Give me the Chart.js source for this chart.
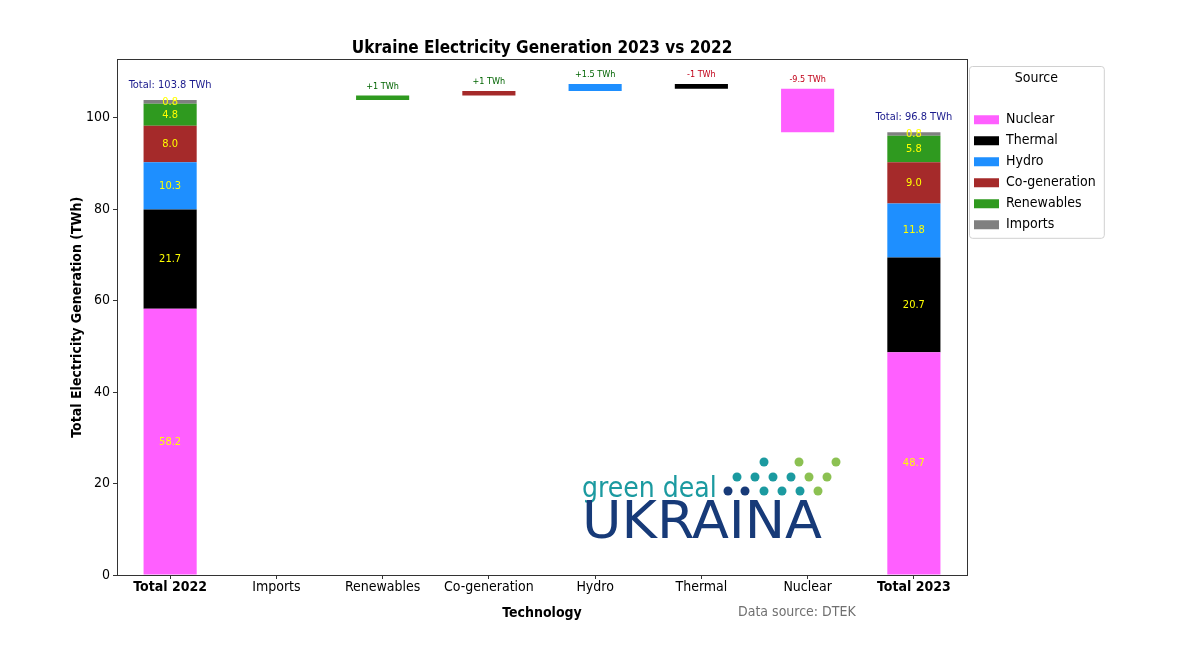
<!DOCTYPE html>
<html>
<head>
<meta charset="utf-8">
<script src="https://cdn.jsdelivr.net/npm/chart.js@4/dist/chart.umd.min.js"></script>
<style>
  html, body { margin: 0; padding: 0; background: #fff; }
  #wrap { width: 1180px; height: 664px; position: relative; }
</style>
</head>
<body>
<div id="wrap"><canvas id="genChart"></canvas></div>
<script>
// categories on the x axis
const categories = ['Total 2022', 'Imports', 'Renewables', 'Co-generation', 'Hydro', 'Thermal', 'Nuclear', 'Total 2023'];

// sources, bottom to top in the stacks
const sources = ['Nuclear', 'Thermal', 'Hydro', 'Co-generation', 'Renewables', 'Imports'];
const sourceColors = ['#ff5fff', '#000000', '#1e8fff', '#a52a2a', '#2f9a1f', '#808080'];
const gen2022 = [58.2, 21.7, 10.3, 8.0, 4.8, 0.8];
const gen2023 = [48.7, 20.7, 11.8, 9.0, 5.8, 0.8];

// year-on-year change, in the order of the middle categories
const changeSources = ['Imports', 'Renewables', 'Co-generation', 'Hydro', 'Thermal', 'Nuclear'];
const changes = [0, 1, 1, 1.5, -1, -9.5];

const yTicks = [0, 20, 40, 60, 80, 100];

const FONT = '"DejaVu Sans Condensed", "DejaVu Sans", sans-serif';
Chart.defaults.font.family = FONT;
Chart.defaults.color = '#000';

const total2022 = gen2022.reduce((a, b) => a + b, 0);
const total2023 = gen2023.reduce((a, b) => a + b, 0);

// stacked totals as floating bars
const stackDatasets = sources.map((name, i) => {
    const base22 = gen2022.slice(0, i).reduce((a, b) => a + b, 0);
    const base23 = gen2023.slice(0, i).reduce((a, b) => a + b, 0);
    const data = categories.map(() => null);
    data[0] = [base22, base22 + gen2022[i]];
    data[categories.length - 1] = [base23, base23 + gen2023[i]];
    return {
        label: name,
        data: data,
        backgroundColor: sourceColors[i],
        borderWidth: 0,
        grouped: false,
        barPercentage: 0.5,
        categoryPercentage: 1.0
    };
});

// waterfall steps
let running = total2022;
const stepData = categories.map(() => null);
const stepColors = categories.map(() => 'transparent');
changeSources.forEach((name, i) => {
    const idx = categories.indexOf(name);
    if (changes[i] !== 0) {
        stepData[idx] = [running, running + changes[i]];
        stepColors[idx] = sourceColors[sources.indexOf(name)];
    }
    running += changes[i];
});

const waterfallDataset = {
    label: 'change',
    data: stepData,
    backgroundColor: stepColors,
    borderWidth: 0,
    grouped: false,
    barPercentage: 0.5,
    categoryPercentage: 1.0
};

// measure legend text so the plot area ends where it should
const mctx = document.createElement('canvas').getContext('2d');
mctx.font = '14px ' + FONT;
const legendTextW = Math.max(...sources.map(s => mctx.measureText(s).width));
const legendW = 7 + 25 + 7 + legendTextW + 10;
const padRight = Math.max(0, 1180 - 967 - legendW);

const valueLabels = {
    id: 'valueLabels',
    afterDatasetsDraw(chart) {
        const { ctx, scales: { x, y } } = chart;
        ctx.save();
        ctx.textAlign = 'center';
        ctx.textBaseline = 'middle';

        [[0, gen2022, total2022], [categories.length - 1, gen2023, total2023]].forEach(([idx, vals, tot]) => {
            const px = x.getPixelForValue(idx);
            let base = 0;
            ctx.font = '11px ' + FONT;
            ctx.fillStyle = '#ffff00';
            vals.forEach(v => {
                ctx.fillText(v.toFixed(1), px, y.getPixelForValue(base + v / 2));
                base += v;
            });
            ctx.fillStyle = '#1a1a8c';
            ctx.font = '11px ' + FONT;
            ctx.fillText('Total: ' + tot.toFixed(1) + ' TWh', px, y.getPixelForValue(tot) - 15);
        });

        ctx.font = '9px ' + FONT;
        changeSources.forEach((name, i) => {
            const idx = categories.indexOf(name);
            const d = stepData[idx];
            if (!d) return;
            const c = changes[i];
            ctx.fillStyle = c > 0 ? '#006400' : '#c00018';
            ctx.fillText((c > 0 ? '+' : '') + c + ' TWh', x.getPixelForValue(idx), y.getPixelForValue(Math.max(d[0], d[1])) - 9);
        });
        ctx.restore();
    }
};

const frameAndExtras = {
    id: 'frameAndExtras',
    afterDraw(chart) {
        const { ctx, chartArea: a } = chart;
        ctx.save();
        // axes frame
        ctx.strokeStyle = '#333';
        ctx.lineWidth = 1;
        ctx.strokeRect(Math.round(a.left) + 0.5, Math.round(a.top) + 0.5, Math.round(a.right - a.left), Math.round(a.bottom - a.top));

        // legend box
        const lg = chart.legend;
        if (lg && lg.legendHitBoxes && lg.legendHitBoxes.length) {
            const hb = lg.legendHitBoxes;
            const bl = hb[0].left - 5;
            const br = Math.max(...hb.map(h => h.left + h.width)) + 8;
            const bt = lg.top + 66;
            const last = hb[hb.length - 1];
            const bb = last.top + last.height + 6;
            ctx.strokeStyle = '#d0d0d0';
            ctx.beginPath();
            ctx.roundRect(bl + 0.5, bt + 0.5, br - bl, bb - bt, 3);
            ctx.stroke();
        }

        // data source note
        ctx.fillStyle = '#707070';
        ctx.font = '14px ' + FONT;
        ctx.textAlign = 'left';
        ctx.textBaseline = 'middle';
        ctx.fillText('Data source: DTEK', 738, 612);

        // green deal ukraina logo
        ctx.textBaseline = 'alphabetic';
        ctx.fillStyle = '#1b9aa0';
        ctx.font = '28px ' + FONT;
        ctx.fillText('green deal', 582, 497);
        ctx.fillStyle = '#173a78';
        ctx.font = '52px ' + FONT;
        const uw = ctx.measureText('UKRAINA').width;
        ctx.save();
        ctx.translate(582, 538);
        ctx.scale(240 / uw, 1);
        ctx.fillText('UKRAINA', 0, 0);
        ctx.restore();
        const dots = [
            [764, 462, '#1b9aa0'], [799, 462, '#8cc152'], [836, 462, '#8cc152'],
            [737, 477, '#1b9aa0'], [755, 477, '#1b9aa0'], [773, 477, '#1b9aa0'], [791, 477, '#1b9aa0'], [809, 477, '#8cc152'], [827, 477, '#8cc152'],
            [728, 491, '#173a78'], [745, 491, '#173a78'], [764, 491, '#1b9aa0'], [782, 491, '#1b9aa0'], [800, 491, '#1b9aa0'], [818, 491, '#8cc152']
        ];
        dots.forEach(([dx, dy, col]) => {
            ctx.fillStyle = col;
            ctx.beginPath();
            ctx.arc(dx, dy, 4.5, 0, Math.PI * 2);
            ctx.fill();
        });
        ctx.restore();
    }
};

new Chart(document.getElementById('genChart').getContext('2d'), {
    type: 'bar',
    data: {
        labels: categories,
        datasets: [...stackDatasets, waterfallDataset]
    },
    options: {
        responsive: true,
        maintainAspectRatio: false,
        animation: false,
        layout: { padding: { left: 0, top: 0, bottom: 0, right: padRight } },
        plugins: {
            title: {
                display: true,
                text: 'Ukraine Electricity Generation 2023 vs 2022',
                fullSize: false,
                font: { size: 17, weight: 'bold' },
                color: '#000',
                padding: { top: 38, bottom: 1 }
            },
            legend: {
                position: 'right',
                align: 'start',
                title: {
                    display: true,
                    text: 'Source',
                    font: { size: 14 },
                    padding: { top: 71, bottom: 18 }
                },
                labels: {
                    boxWidth: 25,
                    boxHeight: 9,
                    padding: 7,
                    font: { size: 14 },
                    filter: item => item.text !== 'change'
                }
            },
            tooltip: { enabled: false }
        },
        scales: {
            x: {
                grid: { display: true, offset: false, drawOnChartArea: false, drawTicks: true, tickLength: 4, color: '#333' },
                border: { display: false },
                ticks: {
                    padding: 0,
                    color: '#000',
                    font: c => ({ size: 14, weight: (c.index === 0 || c.index === categories.length - 1) ? 'bold' : 'normal' })
                },
                title: {
                    display: true,
                    text: 'Technology',
                    font: { size: 14, weight: 'bold' },
                    padding: { top: 0, bottom: 42.6 }
                },
                afterFit: s => { s.height = 89; }
            },
            y: {
                min: 0,
                max: 112.7,
                grid: { display: true, drawOnChartArea: false, drawTicks: true, tickLength: 4, color: '#333' },
                border: { display: false },
                ticks: { stepSize: 20, padding: 3, color: '#000', font: { size: 14 } },
                afterBuildTicks: s => { s.ticks = yTicks.map(v => ({ value: v })); },
                title: {
                    display: true,
                    text: 'Total Electricity Generation (TWh)',
                    font: { size: 14, weight: 'bold' },
                    padding: { top: 68.6, bottom: 0 }
                },
                afterFit: s => { s.width = 117; }
            }
        }
    },
    plugins: [valueLabels, frameAndExtras]
});
</script>
</body>
</html>
